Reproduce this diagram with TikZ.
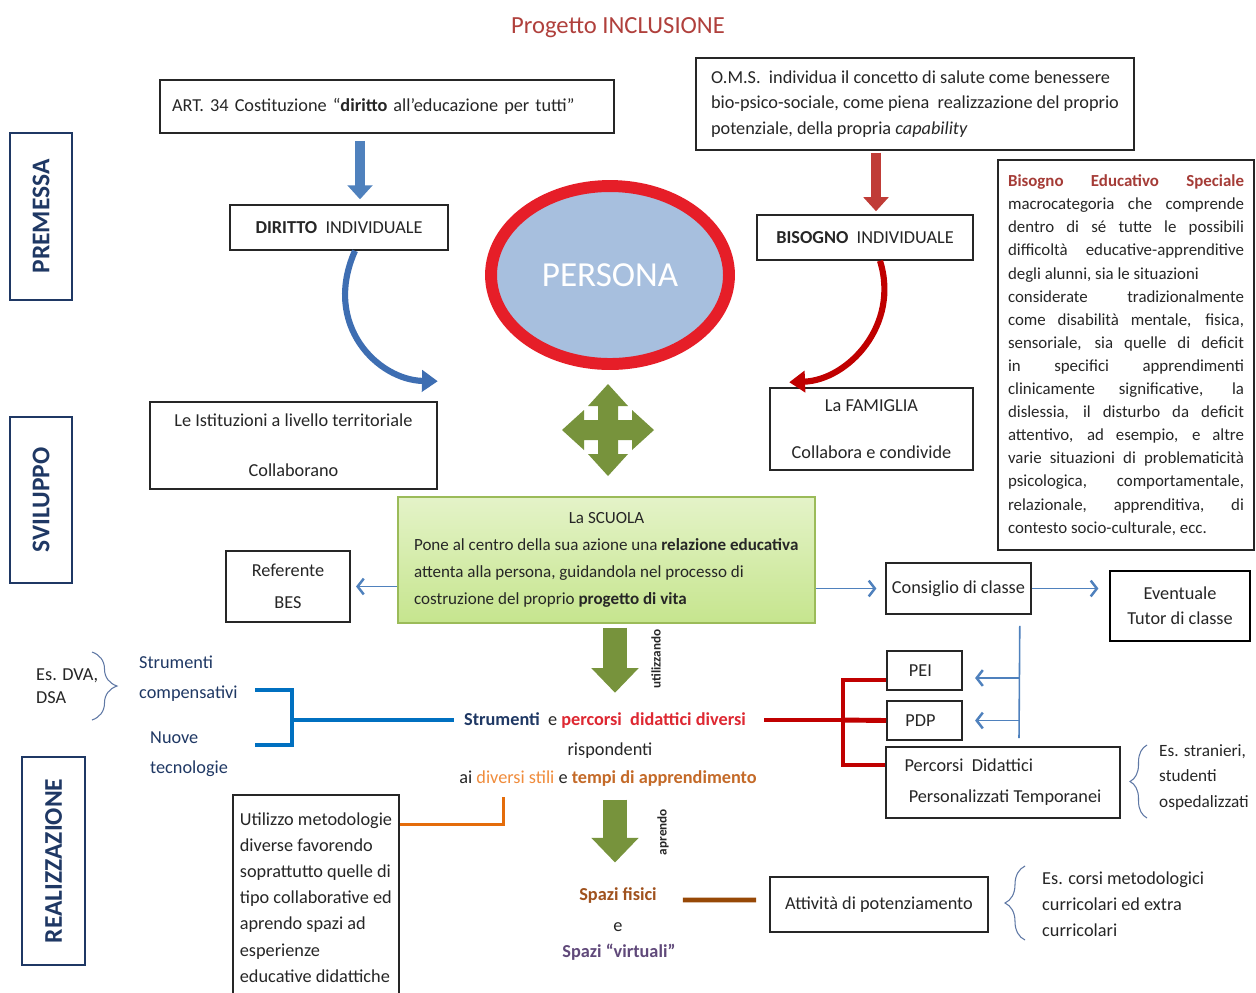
\documentclass[tikz,border=0pt]{standalone}
\usepackage{fontspec}
\setmainfont{Carlito}
\usetikzlibrary{positioning}
\usetikzlibrary{arrows.meta}
\usetikzlibrary{decorations.pathreplacing}
\usetikzlibrary{shapes.geometric}
\definecolor{rosso}{RGB}{230,30,40}
\definecolor{rossoscuro}{RGB}{192,0,0}
\definecolor{rossofreccia}{RGB}{192,60,55}
\definecolor{rossotesto}{RGB}{222,40,50}
\definecolor{titolo}{RGB}{176,64,60}
\definecolor{titolobes}{RGB}{165,60,55}
\definecolor{blu}{RGB}{79,129,189}
\definecolor{blucurva}{RGB}{62,110,178}
\definecolor{bluforte}{RGB}{0,112,192}
\definecolor{blunotte}{RGB}{31,56,100}
\definecolor{grigioblu}{RGB}{95,120,165}
\definecolor{azzurro}{RGB}{167,191,222}
\definecolor{verde}{RGB}{119,147,60}
\definecolor{verdebordo}{RGB}{155,187,89}
\definecolor{verdechiaro}{RGB}{228,243,200}
\definecolor{verdemedio}{RGB}{198,229,142}
\definecolor{arancio}{RGB}{228,108,10}
\definecolor{ocra}{RGB}{240,140,60}
\definecolor{tempi}{RGB}{196,106,40}
\definecolor{ruggine}{RGB}{160,82,30}
\definecolor{marrone}{RGB}{151,72,6}
\definecolor{viola}{RGB}{96,73,122}
\definecolor{grafite}{RGB}{38,38,38}
\newcommand{\riga}[1]{\makebox[4.72cm][s]{#1}}
\tikzset{
  mappa/.style={x=0.02cm, y=-0.02cm,
    every node/.style={font=\fontsize{10.4}{12.4}\selectfont, text=grafite}},
  casella/.style={rectangle, draw=grafite, line width=0.9pt, inner sep=0pt},
  sezione/.style={rectangle, draw=blunotte, line width=1.2pt, rotate=90, inner sep=0pt,
    text=blunotte, font=\bfseries\fontsize{14.5}{16}\selectfont},
  scuola box/.style={casella, draw=verdebordo, top color=verdechiaro, bottom color=verdemedio},
  frecciablu/.style={draw=blu, line width=6pt, -{Triangle[length=8pt,width=14pt]}},
  frecciarossa/.style={draw=rossofreccia, line width=6pt, -{Triangle[length=8pt,width=14pt]}},
  frecciaverde/.style={draw=verde, line width=14pt, -{Triangle[length=14pt,width=26pt]}},
  curva/.style={line width=3.5pt, -{Triangle[length=9pt,width=12pt]}},
  sottile/.style={draw=blu, line width=0.9pt, -{Straight Barb[length=3.5pt,width=9pt,line width=1.4pt]}},
  staffa/.style={line width=2.8pt},
  graffa/.style={decorate, decoration={brace, amplitude=#1}, draw=grigioblu, line width=0.6pt},
  verticale/.style={rotate=90, font=\bfseries\fontsize{7.5}{9}\selectfont},
}

\begin{document}
\begin{tikzpicture}[mappa]
\useasboundingbox (0,0) rectangle (1256,992);
\fill[white] (0,0) rectangle (1256,992);

% titolo e sezioni
\node[font=\fontsize{14}{16}\selectfont, text=titolo] (titolo) at (618,28) {Progetto INCLUSIONE};
\node[sezione, minimum width=3.34cm, minimum height=1.24cm] (premessa) at (41,216.5) {PREMESSA};
\node[sezione, minimum width=3.32cm, minimum height=1.24cm] (sviluppo) at (41,500) {SVILUPPO};
\node[sezione, minimum width=4.16cm, minimum height=1.26cm] (realizzazione) at (53.5,861) {REALIZZAZIONE};

% premessa
\node[casella, minimum width=9.08cm, minimum height=1.06cm, text width=8.6cm, align=left] (art) at (387,106.5)
  {ART. 34 Costituzione “\textbf{diritto} all’educazione per tutti”};
\node[casella, minimum width=4.36cm, minimum height=0.9cm] (diritto) at (339,227.5)
  {\textbf{DIRITTO}\ \ INDIVIDUALE};
\node[casella, minimum width=8.76cm, minimum height=1.84cm, align=left,
  font=\fontsize{10.4}{14.7}\selectfont] (oms) at (915,104)
  {O.M.S.\ \ individua il concetto di salute come benessere\\
   bio-psico-sociale, come piena\ \ realizzazione del proprio\\
   potenziale, della propria \textit{capability}};
\node[casella, minimum width=4.32cm, minimum height=0.9cm] (bisogno) at (865,237.5)
  {\textbf{BISOGNO}\ \ INDIVIDUALE};
\node[ellipse, draw=rosso, line width=6.8pt, fill=azzurro, minimum width=4.76cm,
  minimum height=3.56cm, text=white, font=\fontsize{20}{24}\selectfont] (persona) at (610,275) {PERSONA};

\node[casella, minimum width=5.12cm, minimum height=7.8cm, align=left,
  font=\fontsize{9.6}{13.15}\selectfont] (bes) at (1126,355) {%
  \riga{\bfseries\color{titolobes}Bisogno Educativo Speciale}\\
  \riga{macrocategoria che comprende}\\
  \riga{dentro di sé tutte le possibili}\\
  \riga{difficoltà educative-apprenditive}\\
  degli alunni, sia le situazioni\\
  \riga{considerate tradizionalmente}\\
  \riga{come disabilità mentale, fisica,}\\
  \riga{sensoriale, sia quelle di deficit}\\
  \riga{in specifici apprendimenti}\\
  \riga{clinicamente significative, la}\\
  \riga{dislessia, il disturbo da deficit}\\
  \riga{attentivo, ad esempio, e altre}\\
  \riga{varie situazioni di problematicità}\\
  \riga{psicologica, comportamentale,}\\
  \riga{relazionale, apprenditiva, di}\\
  contesto socio-culturale, ecc.};

% sviluppo
\node[casella, minimum width=5.74cm, minimum height=1.74cm, align=center] (istituzioni) at (293.5,445.5)
  {Le Istituzioni a livello territoriale\\[16pt]Collaborano};
\node[casella, minimum width=4.06cm, minimum height=1.64cm, align=center] (famiglia) at (871.5,429)
  {La FAMIGLIA\\[14pt]Collabora e condivide};
\node[scuola box, minimum width=8.34cm, minimum height=2.52cm, align=left,
  font=\fontsize{9.7}{15.3}\selectfont] (scuola) at (606.5,560)
  {\makebox[7.7cm]{La SCUOLA}\\
   Pone al centro della sua azione una \textbf{relazione educativa}\\
   attenta alla persona, guidandola nel processo di\\
   costruzione del proprio \textbf{progetto di vita}};
\node[casella, minimum width=2.48cm, minimum height=1.42cm, align=center] (referente) at (288,586.5)
  {Referente\\[5.6pt]BES};
\node[casella, minimum width=2.9cm, minimum height=1.02cm] (consiglio) at (958.5,588.5) {Consiglio di classe};
\node[casella, draw=black, line width=1.2pt, minimum width=2.8cm, minimum height=1.4cm,
  align=center] (eventuale) at (1180,606) {Eventuale\\[1.6pt]Tutor di classe};

% quadrifreccia
\fill[verde] (598,420) rectangle (618,440);
\foreach \ang in {0,90,180,270}
  \fill[verde, shift={(608,430)}, rotate=\ang] (-10,0) -- (-10,-24) -- (-20,-24) -- (0,-46)
    -- (20,-24) -- (10,-24) -- (10,0) -- cycle;

% realizzazione
\node[casella, minimum width=1.5cm, minimum height=0.78cm] (pei) at (924.5,670.5) {PEI\ \ \ };
\node[casella, minimum width=1.5cm, minimum height=0.78cm] (pdp) at (924.5,720.5) {PDP\ \ \ };
\node[casella, minimum width=4.68cm, minimum height=1.42cm, align=left] (percorsi) at (1003,782.5)
  {Percorsi\ \ Didattici\\[5.2pt]\ Personalizzati Temporanei};
\node (strumenti) at (605,720)
  {{\bfseries\color{blunotte}Strumenti}\ \ e {\bfseries\color{rossotesto}percorsi\ \ didattici diversi}};
\node (rispondenti) at (610,751) {rispondenti};
\node (tempi) at (608,779)
  {ai {\color{ocra}diversi stili} e {\bfseries\color{tempi}tempi di apprendimento}};
\node[casella, minimum width=3.32cm, minimum height=4.1cm, align=left,
  font=\fontsize{10.4}{14.9}\selectfont] (utilizzo) at (316,897.5)
  {Utilizzo metodologie\\diverse favorendo\\soprattutto quelle di\\tipo collaborative ed\\
   aprendo spazi ad\\esperienze\\educative didattiche};
\node[font=\bfseries\fontsize{10.4}{12}\selectfont, text=ruggine] (spazi) at (618,895) {Spazi fisici};
\node (congiunzione) at (618,927) {e};
\node[font=\bfseries\fontsize{10.4}{12}\selectfont, text=viola] (virtuali) at (619,952) {Spazi “virtuali”};
\node[casella, minimum width=4.36cm, minimum height=1.1cm] (attivita) at (879,904.5) {Attività di potenziamento};

\node[anchor=west, align=left, font=\fontsize{10.4}{13}\selectfont] (dva) at (30,686.5) {Es. DVA,\\DSA};
\node[anchor=west, align=left, text=blunotte, font=\fontsize{10.4}{17}\selectfont] (compensativi) at (133,679)
  {Strumenti\\compensativi};
\node[anchor=west, align=left, text=blunotte, font=\fontsize{10.4}{17}\selectfont] (tecnologie) at (144,754)
  {Nuove\\tecnologie};
\node[anchor=west, align=left, font=\fontsize{9.8}{14.5}\selectfont] (stranieri) at (1153,777)
  {Es. stranieri,\\studenti\\ospedalizzati};
\node[anchor=west, align=left, font=\fontsize{10.4}{14.7}\selectfont] (corsi) at (1036,904)
  {Es. corsi metodologici\\curricolari ed extra\\curricolari};
\node[verticale] (utilizzando) at (656,659) {utilizzando};
\node[verticale] (aprendo) at (663,832) {aprendo};

% frecce
\coordinate (fb) at ([xshift=0.42cm]diritto.north);
\draw[frecciablu, shorten <=4pt, shorten >=2.8pt] (fb |- art.south) -- (fb);
\coordinate (fr) at ([xshift=0.22cm]bisogno.north);
\draw[frecciarossa, shorten <=1.1pt, shorten >=1.7pt] (fr |- oms.south) -- (fr);
\draw[curva, draw=blucurva] ([xshift=0.32cm]diritto.south) .. controls (322,325) and (378,380)
  .. ([yshift=0.4cm]istituzioni.north east);
\draw[curva, draw=rossoscuro] ([xshift=0.3cm]bisogno.south) .. controls (900,325) and (848,380)
  .. ([xshift=0.4cm,yshift=0.1cm]famiglia.north west);

\coordinate (fv) at ([xshift=0.17cm]scuola.south);
\draw[frecciaverde, shorten <=2.3pt, shorten >=7.5pt] (fv) -- (fv |- strumenti.north);
\draw[frecciaverde, shorten <=3.7pt, shorten >=10.5pt] (fv |- tempi.south) -- (fv |- spazi.north);

\draw[sottile, shorten >=3pt] (scuola.west |- referente.east) -- (referente.east);
\draw[sottile, shorten >=5pt] (scuola.east |- consiglio.west) -- (consiglio.west);
\draw[sottile, shorten >=6pt] (consiglio.east) -- (eventuale.west |- consiglio.east);
\coordinate (ramo) at ([xshift=-0.24cm,yshift=-0.22cm]consiglio.south east);
\coordinate (ramofine) at (1019,738);
\coordinate (ramopei) at (1019,678);
\draw[draw=blu, line width=0.9pt] (ramo) -- (ramofine);
\draw[sottile, shorten >=7pt] (ramopei) -- (pei.east |- ramopei);
\draw[sottile, shorten >=7pt] (ramopei |- pdp.east) -- (pdp.east);

% staffe colorate
\coordinate (nodorosso) at (843,720);
\coordinate (rossoalto) at (843,680);
\coordinate (rossobasso) at (843,765);
\draw[staffa, draw=rossoscuro] ([xshift=0.24cm]strumenti.east) -- (nodorosso);
\draw[staffa, draw=rossoscuro] (pei.west |- rossoalto) -- (rossoalto) -- (rossobasso) -- (percorsi.west |- rossobasso);
\draw[staffa, draw=rossoscuro] (nodorosso) -- (pdp.west);

\coordinate (nodoblu) at (292,720);
\coordinate (bluA) at (255,690);
\coordinate (bluB) at (255,745);
\draw[staffa, draw=bluforte] ([xshift=-0.08cm]strumenti.west) -- (nodoblu);
\draw[staffa, draw=bluforte] (bluA) -| (nodoblu |- bluB) -- (bluB);

\coordinate (arancio1) at (503,797);
\draw[line width=1.7pt, draw=arancio] (arancio1) |- ([yshift=-0.6cm]utilizzo.north east);
\draw[staffa, draw=marrone] ([xshift=0.4cm,yshift=-0.1cm]spazi.east) -- ([xshift=-0.26cm,yshift=0.09cm]attivita.west);

% graffe
\draw[graffa=0.5cm] (92,652) -- (92,720);
\draw[graffa=0.34cm] (1147,818) -- (1147,745);
\draw[graffa=0.4cm] (1025,940) -- (1025,866);
\end{tikzpicture}
\end{document}
